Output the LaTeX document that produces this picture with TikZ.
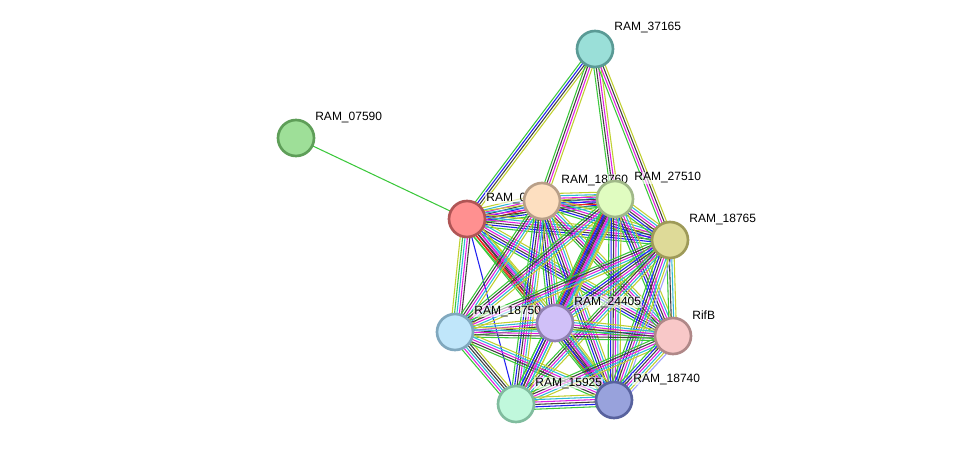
\documentclass[tikz,border=0pt]{standalone}
\usepackage{fontspec}
\setmainfont{Liberation Sans}
\usepackage{xcolor}
\usetikzlibrary{calc}
\definecolor{cNb}{HTML}{3CC83C}
\definecolor{cFu}{HTML}{F02020}
\definecolor{cCo}{HTML}{2020F0}
\definecolor{cCx}{HTML}{404040}
\definecolor{cEx}{HTML}{E020E0}
\definecolor{cDb}{HTML}{30B8D8}
\definecolor{cTm}{HTML}{C0D030}
\definecolor{cHo}{HTML}{A0A0FF}
\definecolor{f37165}{HTML}{9ADFD8}\definecolor{d37165}{HTML}{5A9A95}
\definecolor{f07590}{HTML}{9EDF98}\definecolor{d07590}{HTML}{5E9E58}
\definecolor{f0}{HTML}{FF9090}\definecolor{d0}{HTML}{B05555}
\definecolor{f18760}{HTML}{FDDFC0}\definecolor{d18760}{HTML}{B89F88}
\definecolor{f27510}{HTML}{E0FCC0}\definecolor{d27510}{HTML}{A0B888}
\definecolor{f18765}{HTML}{DEDA98}\definecolor{d18765}{HTML}{9E9A58}
\definecolor{f18750}{HTML}{C0E6FA}\definecolor{d18750}{HTML}{80A8BE}
\definecolor{f24405}{HTML}{D0C0F8}\definecolor{d24405}{HTML}{9080B0}
\definecolor{fRifB}{HTML}{F8C8C8}\definecolor{dRifB}{HTML}{B08888}
\definecolor{f15925}{HTML}{C0F8DC}\definecolor{d15925}{HTML}{80BC9E}
\definecolor{f18740}{HTML}{98A2DC}\definecolor{d18740}{HTML}{58629E}
\pgfdeclarelayer{edges}\pgfdeclarelayer{labels}
\pgfsetlayers{edges,labels,main}
\tikzset{prot/.style={circle,minimum size=27pt,inner sep=0pt,line width=2pt},
 lbl/.style={anchor=west,font=\fontsize{9}{10}\selectfont,inner sep=0.8pt,fill=white,fill opacity=0.6,text opacity=1}}
\newcommand{\prot}[4]{\node[prot,fill=f#4,draw=d#4] (#1) at (#2) {};
 \begin{pgfonlayer}{labels}\node[lbl] (l#1) at ($(#1)+(18,-21)$) {#3};\end{pgfonlayer}}
\newcommand{\lnk}[3]{\begin{pgfonlayer}{edges}
 \foreach \c [count=\n] in {#3} {\xdef\nn{\n}}
 \foreach \c [count=\i] in {#3} {\pgfmathsetmacro{\off}{(\i-(\nn+1)/2)*1.8}
  \draw[\c,line width=0.8pt] ($(#1)!\off pt!90:(#2)$) -- ($(#2)!\off pt!-90:(#1)$);}
 \end{pgfonlayer}}

\begin{document}
\begin{tikzpicture}[x=0.75pt,y=-0.75pt]
\useasboundingbox (0,0) rectangle (975,450);
% proteins
\prot{n37165}{595,49}{RAM\_37165}{37165}
\prot{n07590}{296,138}{RAM\_07590}{07590}
\prot{n0}{467,219}{RAM\_0}{0}
\prot{n18760}{542,201}{RAM\_18760}{18760}
\prot{n27510}{615,199}{RAM\_27510}{27510}
\prot{n18765}{670,240}{RAM\_18765}{18765}
\prot{n18750}{455,332}{RAM\_18750}{18750}
\prot{n24405}{555,323}{RAM\_24405}{24405}
\prot{nRifB}{673,336}{RifB}{RifB}
\prot{n15925}{516,404}{RAM\_15925}{15925}
\prot{n18740}{614,400}{RAM\_18740}{18740}
% links
\lnk{n07590}{n0}{cNb}
\lnk{n37165}{n0}{cNb,cCo,cCx,cTm}
\lnk{n37165}{n18760}{cNb,cCx,cEx,cTm}
\lnk{n37165}{n27510}{cNb,cCx,cEx,cTm}
\lnk{n37165}{n18765}{cNb,cEx,cCx,cTm}
\lnk{n0}{n18760}{cNb,cFu,cCo,cCx,cEx,cDb,cTm}
\lnk{n0}{n27510}{cNb,cCo,cCx,cEx,cDb,cTm}
\lnk{n0}{n18765}{cNb,cCo,cCx,cEx,cDb,cTm}
\lnk{n0}{n18750}{cTm,cNb,cDb,cEx,cCx}
\lnk{n0}{n24405}{cNb,cFu,cCx,cEx,cDb,cTm}
\lnk{n0}{nRifB}{cNb,cCo,cCx,cEx,cDb,cTm}
\lnk{n0}{n15925}{cCo}
\lnk{n0}{n18740}{cNb,cFu,cCx,cEx,cDb,cTm}
\lnk{n18760}{n27510}{cNb,cFu,cCo,cCx,cEx,cDb,cTm}
\lnk{n18760}{n18765}{cNb,cCo,cCx,cEx,cDb,cTm}
\lnk{n18760}{n18750}{cNb,cCx,cEx,cDb,cTm}
\lnk{n18760}{n24405}{cNb,cCo,cCx,cEx,cDb,cTm}
\lnk{n18760}{nRifB}{cNb,cCx,cEx,cDb,cTm}
\lnk{n18760}{n15925}{cNb,cCo,cCx,cEx,cDb,cTm}
\lnk{n18760}{n18740}{cNb,cCo,cCx,cEx,cDb,cTm}
\lnk{n27510}{n18765}{cNb,cCo,cCx,cEx,cDb,cTm}
\lnk{n27510}{n18750}{cNb,cCx,cEx,cDb,cTm}
\lnk{n27510}{n24405}{cNb,cFu,cCo,cCx,cEx,cDb,cTm}
\lnk{n27510}{nRifB}{cNb,cCo,cCx,cEx,cDb,cTm}
\lnk{n27510}{n15925}{cNb,cCo,cCx,cEx,cDb,cTm}
\lnk{n27510}{n18740}{cNb,cCo,cCx,cEx,cDb,cTm}
\lnk{n18765}{n18750}{cNb,cCx,cEx,cDb,cTm}
\lnk{n18765}{n24405}{cNb,cCo,cCx,cEx,cDb,cTm}
\lnk{n18765}{nRifB}{cNb,cCx,cDb,cTm}
\lnk{n18765}{n15925}{cNb,cCx,cEx,cDb,cTm}
\lnk{n18765}{n18740}{cNb,cCo,cCx,cEx,cDb,cTm,cHo}
\lnk{n18750}{n24405}{cNb,cCx,cEx,cDb,cTm}
\lnk{n18750}{nRifB}{cNb,cCx,cEx,cDb,cTm}
\lnk{n18750}{n15925}{cNb,cEx,cDb,cCx,cCx,cTm}
\lnk{n18750}{n18740}{cNb,cCx,cEx,cDb,cTm}
\lnk{n24405}{nRifB}{cNb,cCx,cEx,cDb,cTm}
\lnk{n24405}{n15925}{cNb,cCo,cCx,cEx,cDb,cTm}
\lnk{n24405}{n18740}{cNb,cCo,cCx,cEx,cDb,cTm}
\lnk{nRifB}{n15925}{cNb,cCx,cEx,cDb,cTm}
\lnk{nRifB}{n18740}{cNb,cCo,cCx,cEx,cDb,cTm,cHo}
\lnk{n15925}{n18740}{cNb,cCo,cCx,cEx,cDb,cTm}
\end{tikzpicture}
\end{document}
